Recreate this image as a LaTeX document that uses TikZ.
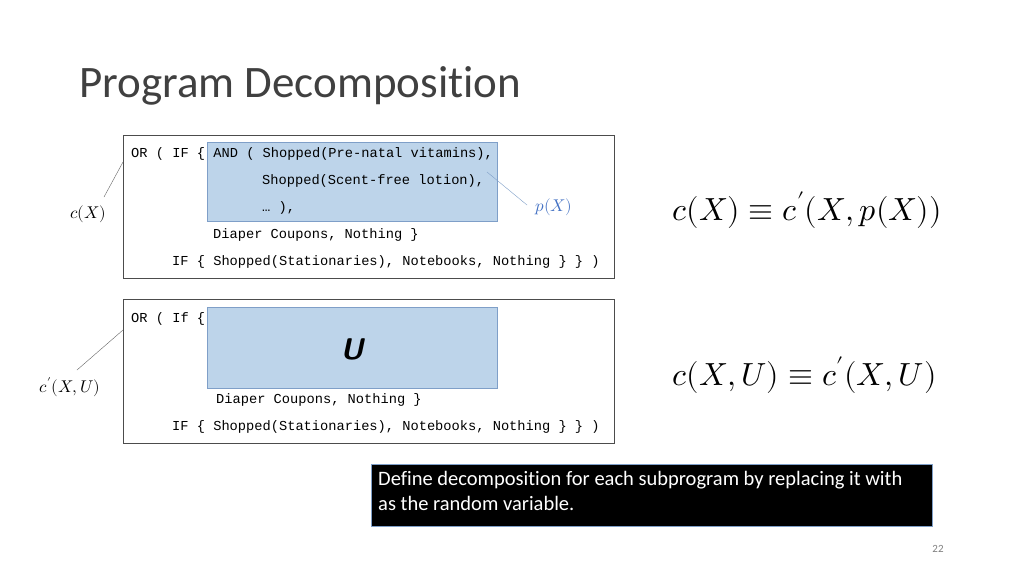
\documentclass[tikz,border=0pt]{standalone}
\usepackage{fontspec}
\setmainfont[Ligatures=NoCommon]{Carlito}
\setmonofont{Liberation Mono}
\usepackage{unicode-math}
\setmathfont{Latin Modern Math}
\definecolor{bfill}{HTML}{BDD4EA}
\definecolor{bdraw}{HTML}{7F9FC8}
\definecolor{pblue}{HTML}{4472C4}
\begin{document}
\begin{tikzpicture}[x=1pt,y=-1pt,
  code/.style={anchor=west,inner sep=0pt,font=\fontsize{13.7}{14}\ttfamily},
  outer/.style={draw=black!70,line width=0.8pt},
  blue/.style={draw=bdraw,fill=bfill,line width=1pt},
  lbl/.style={inner sep=0pt,font=\fontsize{17}{18}\selectfont},
  big/.style={anchor=west,inner sep=0pt,font=\fontsize{32}{34}\selectfont}]
\useasboundingbox (0,0) rectangle (1024,576);
\fill[white] (0,0) rectangle (1024,576);
\node[anchor=west,inner sep=0pt,font=\fontsize{45}{48}\selectfont,text=black!75] (title) at (79,86) {Program Decomposition};
% top
\draw[outer] (123,135) rectangle (614,278);
\draw[blue] (207,142) rectangle (497,221);
\node[code] (t1) at (131,154) {OR ( IF \{ AND ( Shopped(Pre-natal vitamins),};
\node[code] (t2) at (262,181) {Shopped(Scent-free lotion),};
\node[code] (t3) at (262,208) {… ),};
\node[code] (t4) at (213,235) {Diaper Coupons, Nothing \}};
\node[code] (t5) at (172,262) {IF \{ Shopped(Stationaries), Notebooks, Nothing \} \} )};
\node[lbl] (cx) at (88,214) {$c(X)$};
\node[lbl,text=pblue] (px) at (554,207) {$p(X)$};
\coordinate (a1) at (104,197); \coordinate (a2) at (123,162);
\draw[black!60] (a1) -- (a2);
\coordinate (b1) at (487,172); \coordinate (b2) at (527,205);
\draw[bdraw] (b1) -- (b2);
\node[big] (f1) at (672,210) {$c(X)\equiv c^{\prime}(X,p(X))$};
% bottom
\draw[outer] (123,299) rectangle (614,443);
\draw[blue] (207,307) rectangle (497,388);
\node[code] (u1) at (131,319) {OR ( If \{};
\node[inner sep=0pt,font=\fontsize{30}{32}\sffamily\bfseries\itshape] (U) at (352,349) {U};
\node[code] (u4) at (216,400) {Diaper Coupons, Nothing \}};
\node[code] (u5) at (172,427) {IF \{ Shopped(Stationaries), Notebooks, Nothing \} \} )};
\node[lbl] (cxu) at (70,387) {$c^{\prime}(X,U)$};
\coordinate (c1) at (77,370); \coordinate (c2) at (123,330);
\draw[black!60] (c1) -- (c2);
\node[big] (f2) at (672,375) {$c(X,U)\equiv c^{\prime}(X,U)$};
% caption
\node[draw=bdraw,fill=black,anchor=north west,minimum width=561,minimum height=62,inner sep=0pt] (cap) at (371,464) {};
\node[anchor=north west,inner sep=0pt,text=white,align=left,font=\fontsize{20.5}{25.5}\selectfont] (capt) at (378,471) {Define decomposition for each subprogram by replacing it with\\as the random variable.};
\node[inner sep=0pt,text=black!50,font=\fontsize{11}{12}\selectfont] (pg) at (938,549) {22};
\end{tikzpicture}
\end{document}
